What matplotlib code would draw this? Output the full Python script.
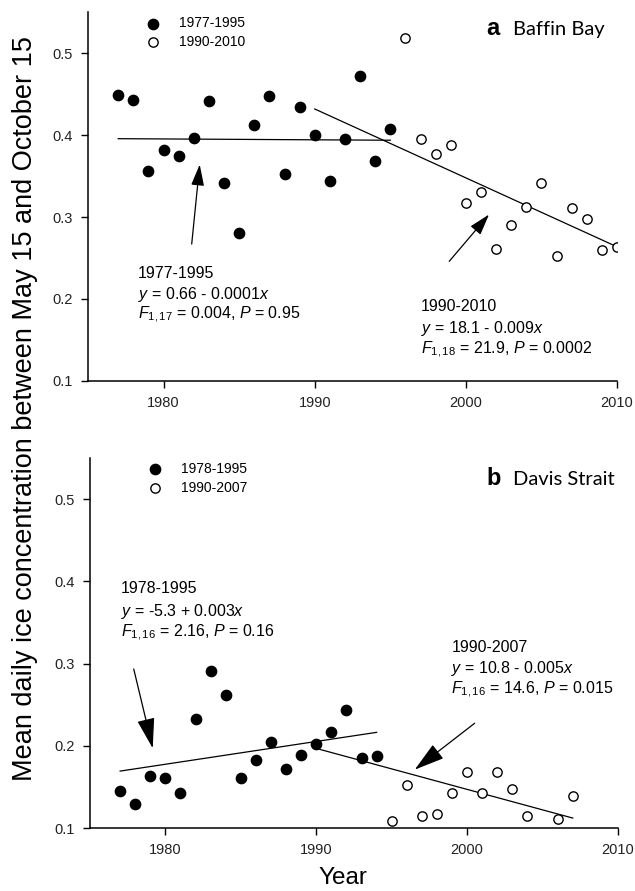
import numpy as np
import matplotlib
matplotlib.use("Agg")
import matplotlib.pyplot as plt
from matplotlib.patches import ArrowStyle

plt.rcParams["font.family"] = ["Liberation Sans", "DejaVu Sans"]
plt.rcParams["mathtext.fontset"] = "custom"
plt.rcParams["mathtext.rm"] = "Liberation Sans"
plt.rcParams["mathtext.it"] = "Liberation Sans:italic"

# Panel a - Baffin Bay
years_a_early = np.arange(1977, 1996)
ice_a_early = [0.449, 0.443, 0.356, 0.382, 0.375, 0.396, 0.441, 0.342, 0.281, 0.412,
               0.447, 0.353, 0.434, 0.400, 0.344, 0.395, 0.472, 0.368, 0.407]
years_a_late = np.arange(1996, 2011)
ice_a_late = [0.518, 0.395, 0.377, 0.388, 0.317, 0.331, 0.261, 0.290, 0.312, 0.342,
              0.253, 0.311, 0.298, 0.260, 0.263]

# Panel b - Davis Strait
years_b_early = np.arange(1977, 1995)
ice_b_early = [0.145, 0.129, 0.163, 0.161, 0.143, 0.233, 0.291, 0.262, 0.161, 0.183,
               0.204, 0.172, 0.189, 0.202, 0.217, 0.243, 0.185, 0.187]
years_b_late = [1995, 1996, 1997, 1998, 1999, 2000, 2001, 2002, 2003, 2004, 2006, 2007]
ice_b_late = [0.109, 0.152, 0.115, 0.117, 0.142, 0.168, 0.142, 0.168, 0.147, 0.114,
              0.111, 0.139]

legend_a = ["1977-1995", "1990-2010"]
legend_b = ["1978-1995", "1990-2007"]
fit_ranges_a = [(1977, 1995), (1990, 2010)]
fit_ranges_b = [(1977, 1994), (1990, 2007)]

stats_a = [["1977-1995", r"$y$ = 0.66 - 0.0001$x$", r"$F_{1,17}$ = 0.004, $P$ = 0.95"],
           ["1990-2010", r"$y$ = 18.1 - 0.009$x$", r"$F_{1,18}$ = 21.9, $P$ = 0.0002"]]
stats_b = [["1978-1995", r"$y$ = -5.3 + 0.003$x$", r"$F_{1,16}$ = 2.16, $P$ = 0.16"],
           ["1990-2007", r"$y$ = 10.8 - 0.005$x$", r"$F_{1,16}$ = 14.6, $P$ = 0.015"]]


def fit_line(ax, years, values, lo, hi):
    years = np.asarray(years)
    values = np.asarray(values)
    m = (years >= lo) & (years <= hi)
    slope, icpt = np.polyfit(years[m], values[m], 1)
    xs = np.array([lo, hi])
    ax.plot(xs, icpt + slope * xs, color="black", lw=0.9)


def panel(ax, ye, ve, yl, vl, labels, ranges, stats, text_pos, arrows,
          tag, name, tag_pos, head):
    ax.scatter(ye, ve, s=55, color="black", label=labels[0], zorder=3)
    ax.scatter(yl, vl, s=45, facecolor="white", edgecolor="black",
               linewidth=1.0, label=labels[1], zorder=3)
    all_y = np.concatenate([ye, yl])
    all_v = np.concatenate([ve, vl])
    for lo, hi in ranges:
        fit_line(ax, all_y, all_v, lo, hi)

    for (x0, ys), lines in zip(text_pos, stats):
        for yy, s in zip(ys, lines):
            ax.text(x0, yy, s, fontsize=11.5, va="center", ha="left")

    for tail, tip in arrows:
        ax.annotate("", xy=tip, xytext=tail,
                    arrowprops=dict(arrowstyle=ArrowStyle("-|>", head_length=head[0],
                                                          head_width=head[1]),
                                    mutation_scale=1, color="black", lw=0.9,
                                    shrinkA=0, shrinkB=0))

    ax.text(tag_pos[0], tag_pos[2], tag, transform=ax.transAxes, fontsize=17,
            fontweight="bold", va="baseline")
    ax.text(tag_pos[1], tag_pos[2], name, transform=ax.transAxes, fontsize=14.5,
            family="Lato", va="baseline")

    ax.legend(loc="upper left", bbox_to_anchor=(0.102, 1.0), frameon=False,
              fontsize=10, handlelength=1.0, handletextpad=1.4, labelspacing=0.35,
              borderpad=0, borderaxespad=0.3)

    ax.set_xlim(1975, 2010)
    ax.set_ylim(0.1, 0.55)
    ax.set_xticks([1980, 1990, 2000, 2010])
    ax.set_yticks([0.1, 0.2, 0.3, 0.4, 0.5])
    ax.set_yticklabels(["0.1", "0.2", "0.3", "0.4", "0.5"])
    for s in ("top", "right"):
        ax.spines[s].set_visible(False)
    for s in ("left", "bottom"):
        ax.spines[s].set_linewidth(1.1)
    ax.tick_params(direction="out", length=5, width=1.0, labelsize=10.5,
                   labelcolor="#222222", pad=6)


fig = plt.figure(figsize=(6.35, 8.91), dpi=100)
ax_a = fig.add_axes([0.1386, 0.5724, 0.8331, 0.4141])
ax_b = fig.add_axes([0.1417, 0.0707, 0.8315, 0.4153])

panel(ax_a, years_a_early, ice_a_early, years_a_late, ice_a_late, legend_a,
      fit_ranges_a, stats_a,
      [(1978.3, [0.2316, 0.2053, 0.1802]), (1997.0, [0.1911, 0.1640, 0.1377])],
      [((1981.86, 0.267), (1982.39, 0.364)), ((1998.9, 0.246), (2001.53, 0.303))],
      "a", "Baffin Bay", (0.752, 0.804, 0.9377), (13, 4))

panel(ax_b, years_b_early, ice_b_early, years_b_late, ice_b_late, legend_b,
      fit_ranges_b, stats_b,
      [(1977.06, [0.3917, 0.3630, 0.3379]), (1998.96, [0.3197, 0.2934, 0.2680])],
      [((1977.9, 0.2934), (1979.16, 0.197)), ((2000.5, 0.2274), (1996.53, 0.171))],
      "b", "Davis Strait", (0.751, 0.8006, 0.927), (19, 5.5))

fig.text(0.039, 0.542, "Mean daily ice concentration between May 15 and October 15",
         rotation=90, ha="center", va="center", fontsize=19.5)
fig.text(0.540, 0.0146, "Year", ha="center", va="center", fontsize=17.5)

fig.savefig("out.png", dpi=100)
